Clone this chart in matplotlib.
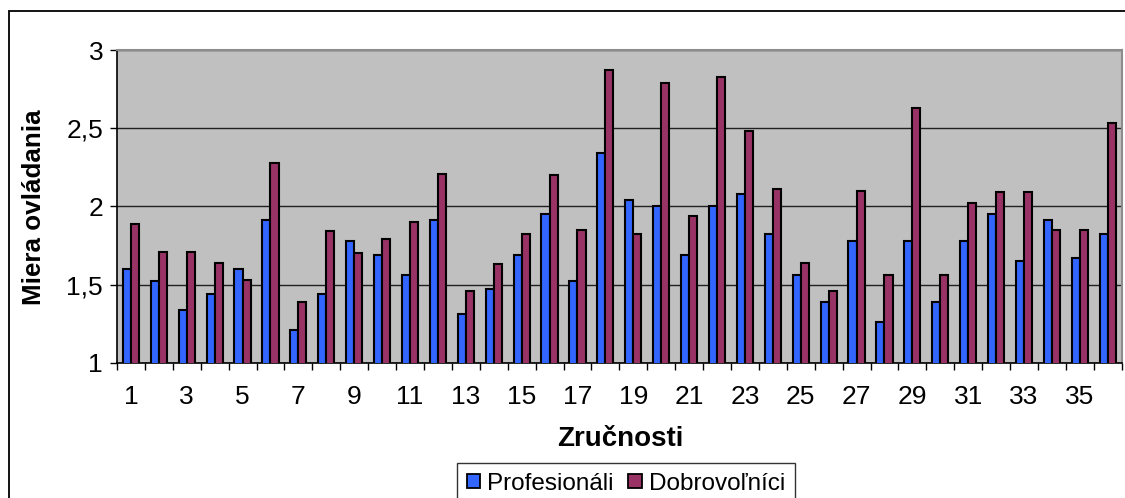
import matplotlib
matplotlib.use("Agg")
import matplotlib.pyplot as plt
import numpy as np
from matplotlib.patches import Patch, Rectangle

plt.rcParams['font.family'] = ['Liberation Sans', 'DejaVu Sans']

categories = list(range(1, 37))
profesionali = [1.60, 1.52, 1.34, 1.44, 1.60, 1.91, 1.21, 1.44, 1.78, 1.69,
                1.56, 1.91, 1.31, 1.47, 1.69, 1.95, 1.52, 2.34, 2.04, 2.00,
                1.69, 2.00, 2.08, 1.82, 1.56, 1.39, 1.78, 1.26, 1.78, 1.39,
                1.78, 1.95, 1.65, 1.91, 1.67, 1.82]
dobrovolnici = [1.89, 1.71, 1.71, 1.64, 1.53, 2.28, 1.39, 1.84, 1.70, 1.79,
                1.90, 2.21, 1.46, 1.63, 1.82, 2.20, 1.85, 2.87, 1.82, 2.79,
                1.94, 2.83, 2.48, 2.11, 1.64, 1.46, 2.10, 1.56, 2.63, 1.56,
                2.02, 2.09, 2.09, 1.85, 1.85, 2.53]
ytick_vals = [1, 1.5, 2, 2.5, 3]
ytick_labels = ['1', '1,5', '2', '2,5', '3']
xtick_labels = [str(c) for c in categories[::2]]

W, H = 1125, 498
fig = plt.figure(figsize=(W / 100, H / 100), dpi=100)
ax = fig.add_axes([117 / W, 1 - 362.7 / H, (1121.7 - 117) / W, (362.7 - 50) / H])
ax.set_facecolor('#C0C0C0')

x = np.arange(len(categories))
bw = 0.29
ax.bar(x - bw / 2, profesionali, bw, bottom=0, color='#3366FF', edgecolor='black', linewidth=1.5, zorder=3)
ax.bar(x + bw / 2, dobrovolnici, bw, bottom=0, color='#993366', edgecolor='black', linewidth=1.5, zorder=3)

ax.set_ylim(1, 3)
ax.set_xlim(-0.5, len(categories) - 0.5)
ax.set_yticks(ytick_vals)
ax.set_yticklabels(ytick_labels, fontsize=19)
ax.yaxis.grid(True, color='#202020', linewidth=1.0, zorder=1)
ax.tick_params(axis='y', direction='out', length=5, width=1, pad=5)

ax.set_xticks(np.arange(len(categories) + 1) - 0.5)
ax.set_xticklabels([])
ax.tick_params(axis='x', which='major', direction='out', length=5, width=1)
ax.set_xticks(x[::2], minor=True)
ax.set_xticklabels(xtick_labels, minor=True, fontsize=19)
ax.tick_params(axis='x', which='minor', length=0, pad=16)

for s in ['top', 'right']:
    ax.spines[s].set_color('#8C8C8C')
    ax.spines[s].set_linewidth(1.5)
for s in ['left', 'bottom']:
    ax.spines[s].set_color('black')
    ax.spines[s].set_linewidth(1.2)

fig.text(620 / W, 1 - 439 / H, 'Zručnosti', ha='center', va='center', fontsize=20, fontweight='bold')
fig.text(34 / W, 1 - 207 / H, 'Miera ovládania', ha='center', va='center', rotation=90,
         fontsize=18.7, fontweight='bold')

handles = [Patch(facecolor='#3366FF', edgecolor='black', linewidth=1.3, label='Profesionáli'),
           Patch(facecolor='#993366', edgecolor='black', linewidth=1.3, label='Dobrovoľníci')]
leg = fig.legend(handles=handles, loc='upper left', bbox_to_anchor=(457 / W, 1 - 463 / H),
                 ncol=2, fontsize=17.5, frameon=True, fancybox=False, borderpad=0.4,
                 handlelength=0.55, handleheight=0.55, handletextpad=0.3, columnspacing=0.6,
                 borderaxespad=0)
leg.get_frame().set_edgecolor('black')
leg.get_frame().set_linewidth(1.0)

fig.patches.append(Rectangle((9 / W, -0.1), 1.2, 1.1 - 11 / H, transform=fig.transFigure,
                             fill=False, edgecolor='black', linewidth=1.3))

fig.savefig('out.png', dpi=100, facecolor='white')
